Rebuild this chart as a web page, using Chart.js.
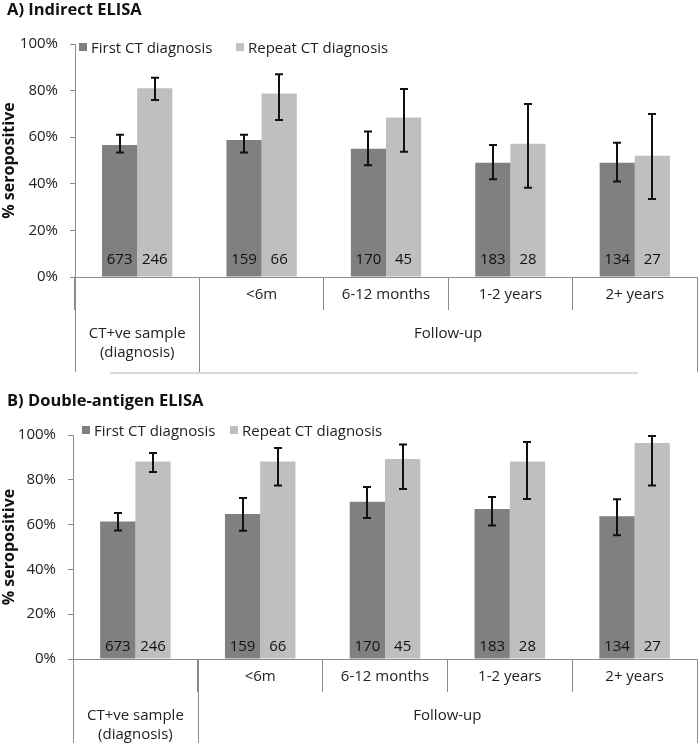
<!DOCTYPE html>
<html>
<head>
<meta charset="utf-8">
<script src="https://cdn.jsdelivr.net/npm/chart.js@4.4.1/dist/chart.umd.min.js"></script>
<style>
  body { margin: 0; background: #fff; font-family: 'Open Sans', sans-serif; }
  .panel { position: absolute; left: 0; width: 698px; }
  .titulo { position: absolute; left: 7px; font-weight: bold; font-size: 16.5px; color: #111; line-height: 18px; }
  .leyenda { position: absolute; font-size: 15px; color: #222; display: flex; align-items: center; line-height: 18px; }
  .item { display: flex; align-items: center; }
  .cuadro { display: inline-block; width: 8px; height: 8px; margin-right: 4px; }
  .sep { position: absolute; left: 110px; top: 372px; width: 528px; height: 2px; background: #d9d9d9; }
</style>
</head>
<body>
<div class="panel" style="top:0;height:372px">
  <canvas id="chartA" width="698" height="372"></canvas>
  <div class="titulo" style="top:0">A) Indirect ELISA</div>
  <div class="leyenda" id="leyendaA" style="left:79px;top:38px"></div>
</div>
<div class="sep"></div>
<div class="panel" style="top:380px;height:363px">
  <canvas id="chartB" width="698" height="363"></canvas>
  <div class="titulo" style="top:11px">B) Double-antigen ELISA</div>
  <div class="leyenda" id="leyendaB" style="left:82px;top:41px"></div>
</div>
<script>
// Categorías del eje X
const periodos = ['', '<6m', '6-12 months', '1-2 years', '2+ years'];
const grupos = [
  { texto: ['CT+ve sample', '(diagnosis)'], desde: 0, hasta: 0 },
  { texto: ['Follow-up'], desde: 1, hasta: 4 }
];
const series = ['First CT diagnosis', 'Repeat CT diagnosis'];
const colores = ['#808080', '#bfbfbf'];

// Tamaños de muestra (n)
const nPrimero = [673, 159, 170, 183, 134];
const nRepetido = [246, 66, 45, 28, 27];

// A) Indirect ELISA
const indPrimero = [56.7, 58.8, 55, 49, 49];
const indPrimeroBajo = [53.4, 53.4, 48, 42, 41];
const indPrimeroAlto = [61, 61, 62.5, 56.6, 57.6];
const indRepetido = [81, 78.8, 68.5, 57.2, 52];
const indRepetidoBajo = [76, 67.4, 53.8, 38.3, 33.5];
const indRepetidoAlto = [85.5, 87, 80.7, 74.2, 70];

// B) Double-antigen ELISA
const dobPrimero = [61.4, 64.7, 70.2, 67, 63.7];
const dobPrimeroBajo = [57.4, 57.3, 63, 59.6, 55.2];
const dobPrimeroAlto = [65.2, 71.9, 76.8, 72.3, 71.3];
const dobRepetido = [88.2, 88.2, 89.3, 88.2, 96.4];
const dobRepetidoBajo = [83.5, 77.4, 75.9, 71.4, 77.4];
const dobRepetidoAlto = [92, 94.2, 95.8, 96.9, 99.6];

const FUENTE = "'Open Sans', sans-serif";
const GRIS_EJE = '#8c8c8c';

// Barras de error
const barrasError = {
  id: 'barrasError',
  afterDatasetsDraw(chart) {
    const ctx = chart.ctx;
    const y = chart.scales.y;
    chart.data.datasets.forEach((ds, i) => {
      chart.getDatasetMeta(i).data.forEach((bar, j) => {
        const arriba = y.getPixelForValue(ds.errAlto[j]);
        const abajo = y.getPixelForValue(ds.errBajo[j]);
        const cx = Math.round(bar.x);
        ctx.save();
        ctx.strokeStyle = '#111';
        ctx.lineWidth = 2;
        ctx.beginPath();
        ctx.moveTo(cx, arriba); ctx.lineTo(cx, abajo);
        ctx.moveTo(cx - 4, arriba); ctx.lineTo(cx + 4, arriba);
        ctx.moveTo(cx - 4, abajo); ctx.lineTo(cx + 4, abajo);
        ctx.stroke();
        ctx.restore();
      });
    });
  }
};

// Números n dentro de las barras
const etiquetasN = {
  id: 'etiquetasN',
  afterDatasetsDraw(chart, args, opts) {
    const ctx = chart.ctx;
    ctx.save();
    ctx.font = '15px ' + FUENTE;
    ctx.fillStyle = '#111';
    ctx.textAlign = 'center';
    ctx.textBaseline = 'middle';
    chart.data.datasets.forEach((ds, i) => {
      chart.getDatasetMeta(i).data.forEach((bar, j) => {
        ctx.fillText(String(ds.n[j]), bar.x, chart.chartArea.bottom - opts.desde);
      });
    });
    ctx.restore();
  }
};

// Segundo nivel del eje X (grupos)
const gruposEje = {
  id: 'gruposEje',
  afterDraw(chart, args, opts) {
    const x = chart.scales.x;
    const ctx = chart.ctx;
    const paso = x.width / chart.data.labels.length;
    const base = chart.chartArea.bottom;
    ctx.save();
    ctx.strokeStyle = GRIS_EJE;
    ctx.lineWidth = 1;
    ctx.fillStyle = '#222';
    ctx.font = '15px ' + FUENTE;
    ctx.textAlign = 'center';
    ctx.textBaseline = 'middle';
    grupos.forEach(g => {
      const izq = x.getPixelForValue(g.desde) - paso / 2;
      const der = x.getPixelForValue(g.hasta) + paso / 2;
      [izq, der].forEach(px => {
        const p = Math.min(Math.round(px), chart.width - 1) + 0.5;
        ctx.beginPath();
        ctx.moveTo(p, base);
        ctx.lineTo(p, chart.height);
        ctx.stroke();
      });
      g.texto.forEach((linea, k) => {
        ctx.fillText(linea, (izq + der) / 2, base + opts.y0 + k * opts.alto);
      });
    });
    ctx.restore();
  }
};

function crearGrafico(id, d, cfg) {
  const ctx = document.getElementById(id).getContext('2d');
  const chart = new Chart(ctx, {
    type: 'bar',
    data: {
      labels: periodos,
      datasets: [
        { label: series[0], data: d.primero, errBajo: d.primeroBajo, errAlto: d.primeroAlto, n: nPrimero, backgroundColor: colores[0] },
        { label: series[1], data: d.repetido, errBajo: d.repetidoBajo, errAlto: d.repetidoAlto, n: nRepetido, backgroundColor: colores[1] }
      ]
    },
    options: {
      responsive: false,
      animation: false,
      categoryPercentage: 0.565,
      barPercentage: 1.0,
      layout: { padding: { top: cfg.arriba, right: 1, left: 0, bottom: 0 } },
      plugins: {
        legend: { display: false },
        tooltip: { enabled: false },
        etiquetasN: { desde: cfg.nDesde },
        gruposEje: { y0: 57, alto: 19 }
      },
      scales: {
        x: {
          grid: { offset: true, drawOnChartArea: false, tickLength: 33, color: GRIS_EJE },
          border: { color: GRIS_EJE },
          ticks: { padding: -24, color: '#222', font: { family: FUENTE, size: 15 }, maxRotation: 0, autoSkip: false },
          afterFit(s) { s.height = cfg.altoX; }
        },
        y: {
          min: 0,
          max: 100,
          ticks: { stepSize: 20, callback: v => v + '%', padding: 12, color: '#222', font: { family: FUENTE, size: 15 } },
          grid: { drawOnChartArea: false, tickLength: 5, color: GRIS_EJE },
          border: { color: GRIS_EJE },
          title: { display: true, text: '% seropositive', color: '#111', padding: 0, font: { family: FUENTE, size: 16, weight: 'bold' } },
          afterFit(s) { s.width = cfg.anchoY; }
        }
      }
    },
    plugins: [barrasError, etiquetasN, gruposEje]
  });

  // Leyenda en HTML sobre el área del gráfico
  const ley = document.getElementById(cfg.leyenda);
  chart.data.datasets.forEach((ds, i) => {
    const it = document.createElement('div');
    it.className = 'item';
    if (i === 0) it.style.width = cfg.anchoItem + 'px';
    it.innerHTML = '<span class="cuadro" style="background:' + ds.backgroundColor + '"></span>' + ds.label;
    ley.appendChild(it);
  });
  return chart;
}

crearGrafico('chartA', {
  primero: indPrimero, primeroBajo: indPrimeroBajo, primeroAlto: indPrimeroAlto,
  repetido: indRepetido, repetidoBajo: indRepetidoBajo, repetidoAlto: indRepetidoAlto
}, { arriba: 44, altoX: 95, anchoY: 75, nDesde: 17, leyenda: 'leyendaA', anchoItem: 157 });

crearGrafico('chartB', {
  primero: dobPrimero, primeroBajo: dobPrimeroBajo, primeroAlto: dobPrimeroAlto,
  repetido: dobRepetido, repetidoBajo: dobRepetidoBajo, repetidoAlto: dobRepetidoAlto
}, { arriba: 55, altoX: 84, anchoY: 73, nDesde: 12, leyenda: 'leyendaB', anchoItem: 148 });
</script>
</body>
</html>
